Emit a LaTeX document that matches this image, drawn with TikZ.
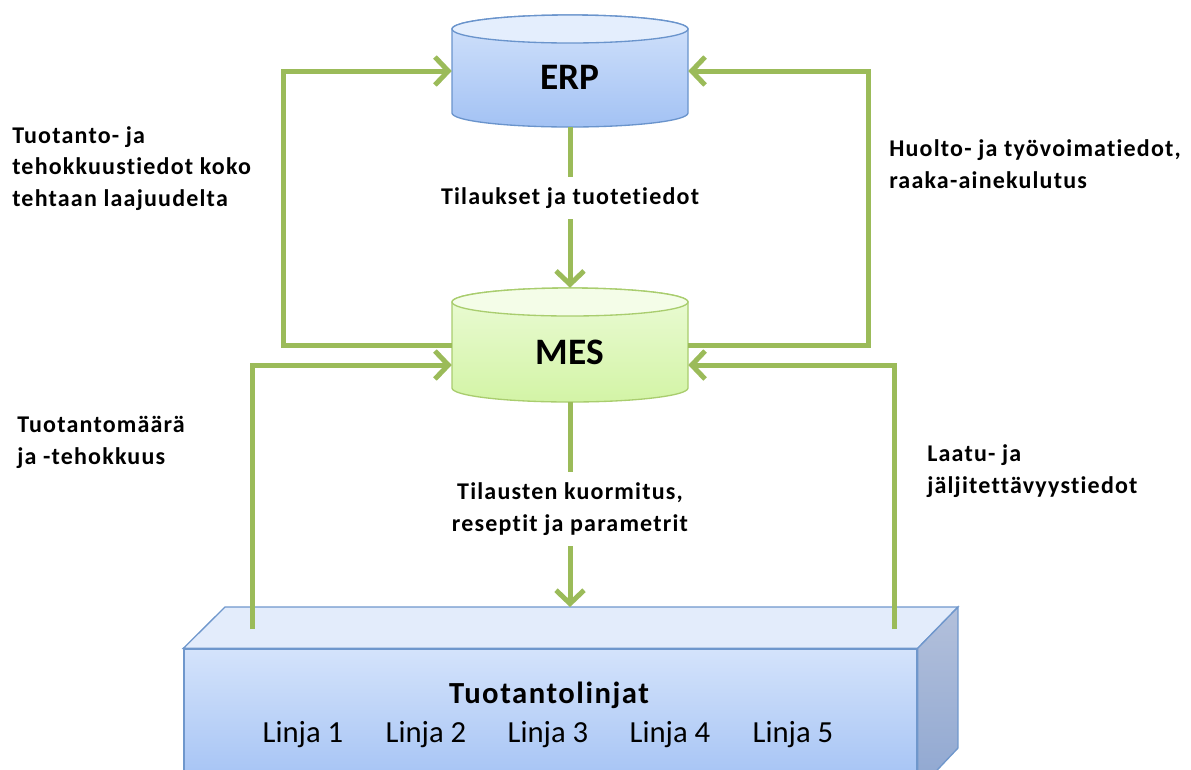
\documentclass[tikz,border=0pt]{standalone}
\usepackage{fontspec}
\setmainfont[Ligatures=NoCommon]{Carlito}
\newfontfamily\spacedfont[LetterSpace=5,Ligatures=NoCommon]{Carlito}
\usetikzlibrary{arrows.meta,fit}

\definecolor{flowgreen}{HTML}{9BBB59}
\definecolor{erpline}{HTML}{6A94CC}
\definecolor{erpcap}{HTML}{E4EEFD}
\definecolor{erptop}{HTML}{D2E2FB}
\definecolor{erpbot}{HTML}{A3C2F4}
\definecolor{mesline}{HTML}{A9CD6E}
\definecolor{mescap}{HTML}{F4FDE8}
\definecolor{mestop}{HTML}{EBFBD6}
\definecolor{mesbot}{HTML}{D3F4A6}
\definecolor{boxline}{HTML}{6F97CC}
\definecolor{boxlid}{HTML}{E3ECFB}
\definecolor{boxfront}{HTML}{D4E3FB}
\definecolor{boxfrontbot}{HTML}{A2C1F4}
\definecolor{boxsidetop}{HTML}{B3C0DB}
\definecolor{boxsidebot}{HTML}{8FA7D1}

\begin{document}
\begin{tikzpicture}[x=0.75pt,y=-0.75pt,
  flow/.style={draw=flowgreen, line width=3.75pt,
    -{Straight Barb[length=10pt,width=21pt,line width=3.75pt]}},
  lbl/.style={font=\spacedfont\bfseries\fontsize{18}{23.6}\selectfont, align=left, inner sep=0pt},
  midlbl/.style={font=\spacedfont\bfseries\fontsize{18}{24}\selectfont, align=center,
    fill=white, inner xsep=2pt, inner ysep=8pt},
  dbname/.style={font=\bfseries\fontsize{28}{32}\selectfont, inner sep=0pt},
  linetext/.style={font=\fontsize{23}{28}\selectfont, inner sep=0pt, anchor=base},
  anchorbox/.style={inner sep=0pt, draw=none}]

\useasboundingbox (0,0) rectangle (1191,769);
\clip (0,0) rectangle (1191,769);

% ---- ERP database drum ----
\path[draw=erpline, line width=1pt, top color=erptop, bottom color=erpbot]
  (452,29) -- (452,113)
  arc[start angle=180, end angle=360, x radius=88.5pt, y radius=10.5pt]
  -- (688,29)
  arc[start angle=0, end angle=180, x radius=88.5pt, y radius=10.5pt] -- cycle;
\path[draw=erpline, line width=1pt, fill=erpcap]
  (570,29) ellipse[x radius=88.5pt, y radius=10.5pt];
\node[anchorbox, fit={(452,29) (688,113)}] (erp) {};
\node[dbname] (erpname) at (570,77) {ERP};

% ---- MES database drum ----
\path[draw=mesline, line width=1pt, top color=mestop, bottom color=mesbot]
  (452,302) -- (452,388)
  arc[start angle=180, end angle=360, x radius=88.5pt, y radius=10.5pt]
  -- (688,302)
  arc[start angle=0, end angle=180, x radius=88.5pt, y radius=10.5pt] -- cycle;
\path[draw=mesline, line width=1pt, fill=mescap]
  (570,302) ellipse[x radius=88.5pt, y radius=10.5pt];
\node[anchorbox, fit={(452,302) (688,388)}] (mes) {};
\node[dbname] (mesname) at (570,352) {MES};

% ---- production lines block ----
\node[inner sep=0pt, draw=boxline, line width=1pt, top color=boxfront,
  bottom color=boxfrontbot, fit={(184,649) (917,790)}] (lines) {};
\path[draw=boxline, line width=1pt, fill=boxlid]
  (lines.north west) -- (225,607) -- (958,607) -- (lines.north east) -- cycle;
\path[draw=boxline, line width=1pt, top color=boxsidetop, bottom color=boxsidebot]
  (lines.north east) -- (958,607) -- (958,748) -- (lines.south east) -- cycle;
\node[font=\spacedfont\bfseries\fontsize{23}{28}\selectfont, inner sep=0pt, anchor=base]
  (linestitle) at (549,703) {Tuotantolinjat};
\node[linetext] (l1) at (303,742) {Linja 1};
\node[linetext] (l2) at (426,742) {Linja 2};
\node[linetext] (l3) at (548,742) {Linja 3};
\node[linetext] (l4) at (670,742) {Linja 4};
\node[linetext] (l5) at (793,742) {Linja 5};

% free ends of the connectors on the block lid
\coordinate (lidleft) at (252,629);
\coordinate (lidright) at (894,629);
\coordinate (lidmid) at (570,607);

% ---- connectors ----
\draw[flow] (mes.west) -- ++(-168,0) |- (erp.west);
\draw[flow] (mes.east) -- ++(180,0) |- (erp.east);
\draw[flow] (lidleft) |- ([yshift=-15pt]mes.west);
\draw[flow] (lidright) |- ([yshift=-15pt]mes.east);
\draw[flow] ([yshift=-10.5pt]erp.south) -- ([yshift=10.5pt]mes.north)
  node[midlbl, pos=0.44] (orders) {Tilaukset ja tuotetiedot};
\draw[flow] ([yshift=-10.5pt]mes.south) -- (lidmid)
  node[midlbl, pos=0.52] (loading) {Tilausten kuormitus,\\reseptit ja parametrit};

% ---- side labels (anchored at the baseline of their last line) ----
\node[lbl, anchor=base west] (prodinfo) at (12,206)
  {Tuotanto- ja\\tehokkuustiedot koko\\tehtaan laajuudelta};
\node[lbl, anchor=base west] (maintinfo) at (889,188)
  {Huolto- ja työvoimatiedot,\\raaka-ainekulutus};
\node[lbl, anchor=base west] (volinfo) at (17,464)
  {Tuotantomäärä\\ja -tehokkuus};
\node[lbl, anchor=base west] (qualinfo) at (927,493)
  {Laatu- ja\\jäljitettävyystiedot};

\end{tikzpicture}
\end{document}
